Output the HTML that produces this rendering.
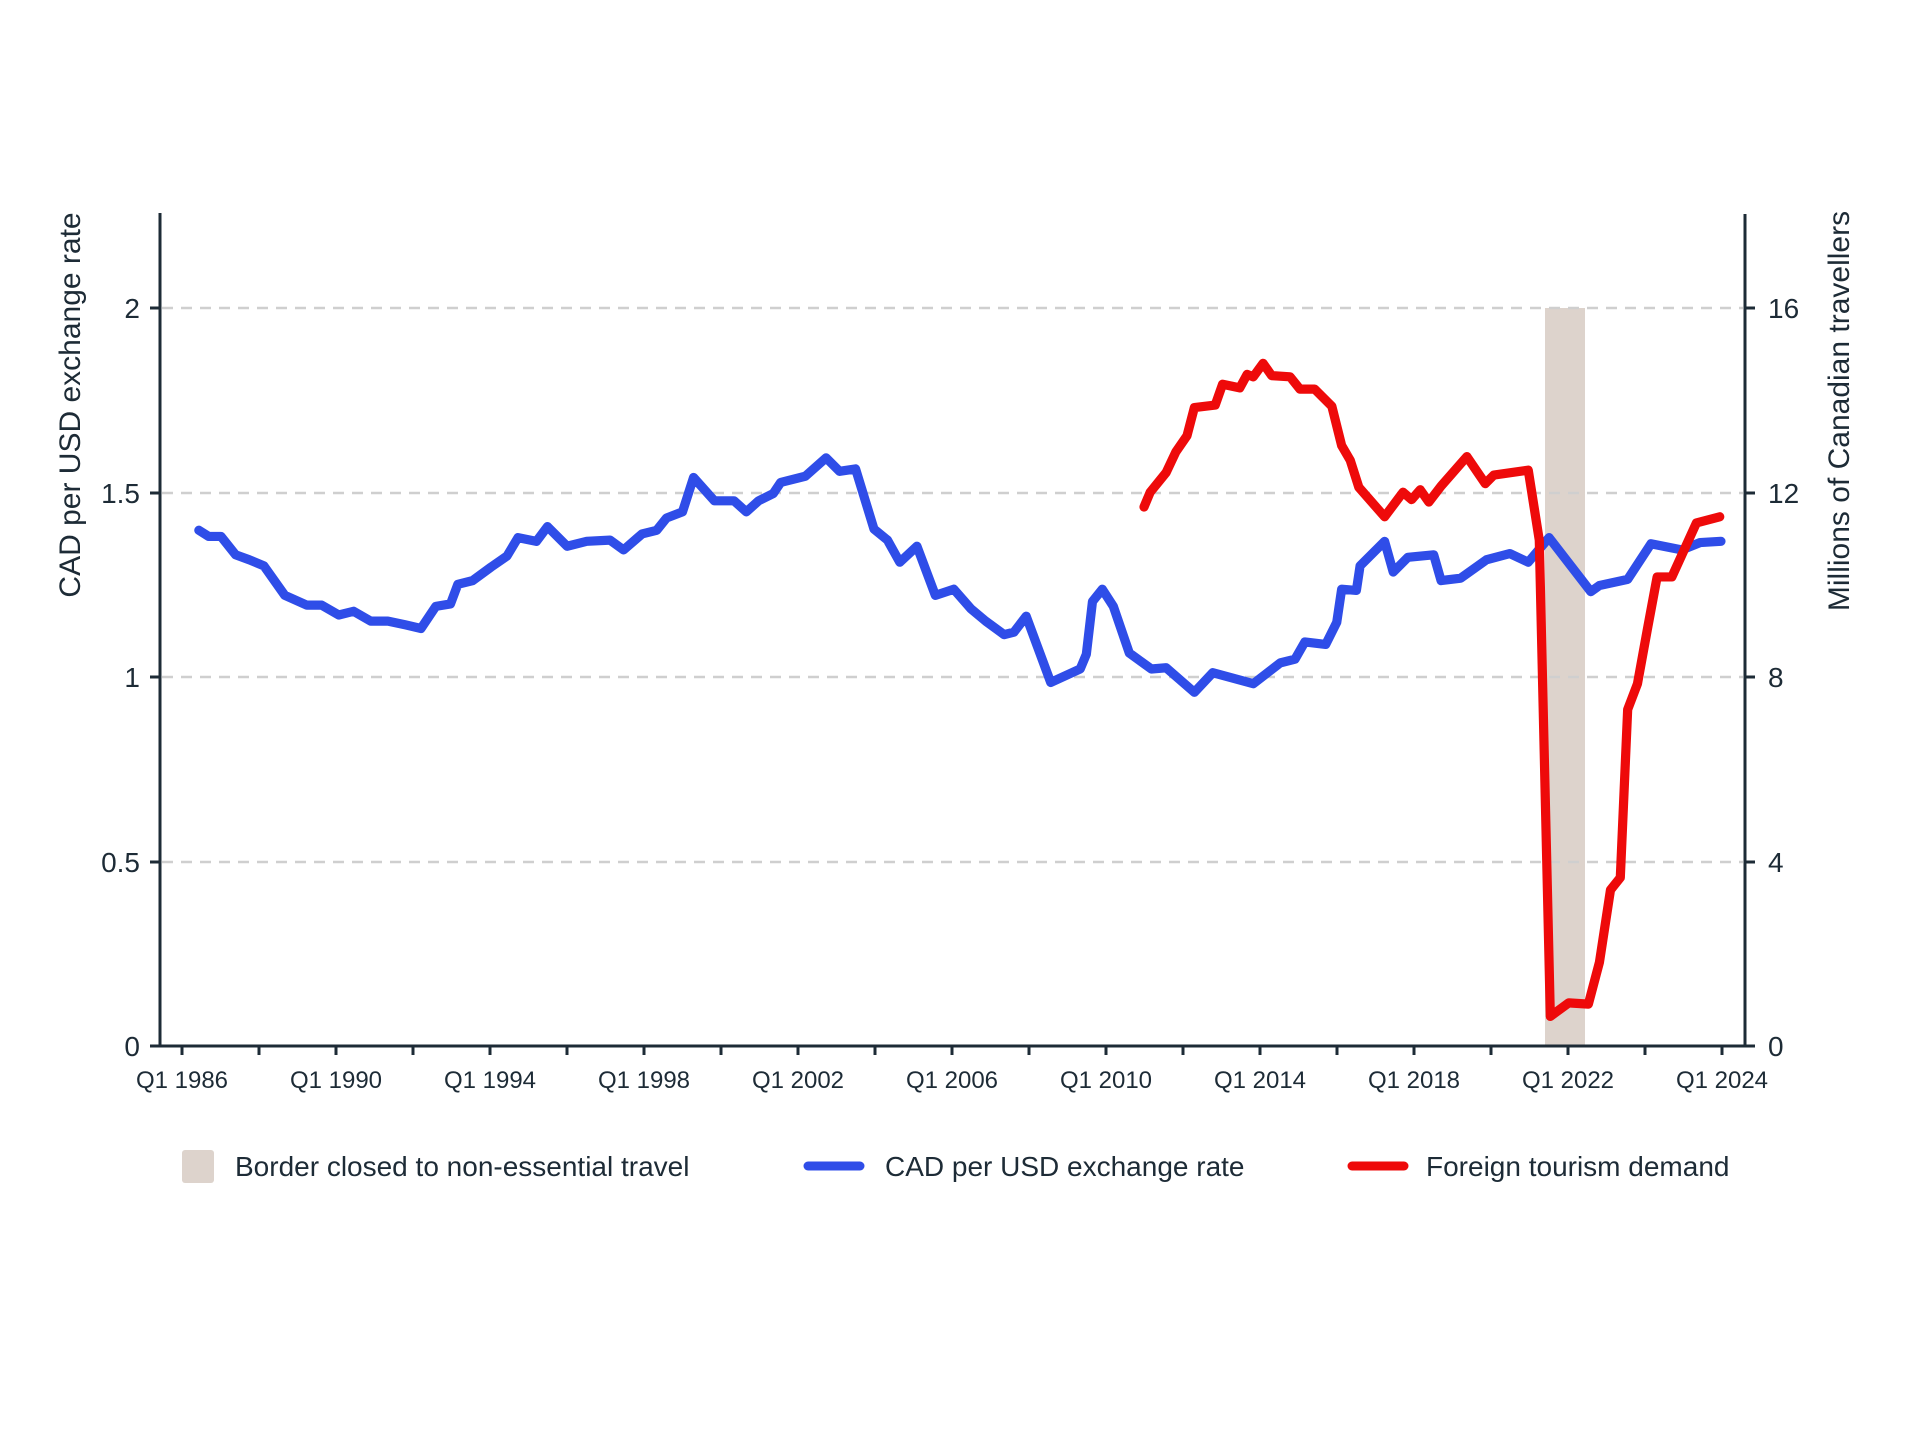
<!DOCTYPE html>
<html><head><meta charset="utf-8"><style>
html,body{margin:0;padding:0;background:#fff;}
svg{display:block;}
text{font-family:"Liberation Sans",Arial,sans-serif;fill:#1d2b36;}
</style></head><body>
<svg width="1920" height="1440" viewBox="0 0 1920 1440" xmlns="http://www.w3.org/2000/svg">
<rect width="1920" height="1440" fill="#fff"/>
<rect x="1545" y="308" width="40" height="738" fill="#ddd3cc"/>
<g stroke="#cfcfcf" stroke-width="2.5" stroke-dasharray="11,8">
<line x1="162" y1="308" x2="1743" y2="308"/>
<line x1="162" y1="493" x2="1743" y2="493"/>
<line x1="162" y1="677" x2="1743" y2="677"/>
<line x1="162" y1="862" x2="1743" y2="862"/>
</g>
<g stroke="#1d2b36" stroke-width="3" fill="none">
<line x1="160" y1="213" x2="160" y2="1047"/>
<line x1="1745" y1="214" x2="1745" y2="1047"/>
<line x1="150" y1="1046" x2="1755" y2="1046"/>
<line x1="150" y1="308" x2="160" y2="308"/><line x1="150" y1="493" x2="160" y2="493"/><line x1="150" y1="677" x2="160" y2="677"/><line x1="150" y1="862" x2="160" y2="862"/>
<line x1="1745" y1="308" x2="1755" y2="308"/><line x1="1745" y1="493" x2="1755" y2="493"/><line x1="1745" y1="677" x2="1755" y2="677"/><line x1="1745" y1="862" x2="1755" y2="862"/>
<line x1="182" y1="1046" x2="182" y2="1055"/><line x1="259" y1="1046" x2="259" y2="1055"/><line x1="336" y1="1046" x2="336" y2="1055"/><line x1="413" y1="1046" x2="413" y2="1055"/><line x1="490" y1="1046" x2="490" y2="1055"/><line x1="567" y1="1046" x2="567" y2="1055"/><line x1="644" y1="1046" x2="644" y2="1055"/><line x1="721" y1="1046" x2="721" y2="1055"/><line x1="798" y1="1046" x2="798" y2="1055"/><line x1="875" y1="1046" x2="875" y2="1055"/><line x1="952" y1="1046" x2="952" y2="1055"/><line x1="1029" y1="1046" x2="1029" y2="1055"/><line x1="1106" y1="1046" x2="1106" y2="1055"/><line x1="1183" y1="1046" x2="1183" y2="1055"/><line x1="1260" y1="1046" x2="1260" y2="1055"/><line x1="1337" y1="1046" x2="1337" y2="1055"/><line x1="1414" y1="1046" x2="1414" y2="1055"/><line x1="1491" y1="1046" x2="1491" y2="1055"/><line x1="1568" y1="1046" x2="1568" y2="1055"/><line x1="1645" y1="1046" x2="1645" y2="1055"/><line x1="1722" y1="1046" x2="1722" y2="1055"/>
</g>
<g font-size="28" text-anchor="end">
<text x="140" y="318">2</text><text x="140" y="503">1.5</text><text x="140" y="687">1</text><text x="140" y="872">0.5</text><text x="140" y="1056">0</text>
</g>
<g font-size="28" text-anchor="start">
<text x="1768" y="318">16</text><text x="1768" y="503">12</text><text x="1768" y="687">8</text><text x="1768" y="872">4</text><text x="1768" y="1056">0</text>
</g>
<g font-size="24" text-anchor="middle">
<text x="182" y="1088">Q1 1986</text><text x="336" y="1088">Q1 1990</text><text x="490" y="1088">Q1 1994</text><text x="644" y="1088">Q1 1998</text><text x="798" y="1088">Q1 2002</text><text x="952" y="1088">Q1 2006</text><text x="1106" y="1088">Q1 2010</text><text x="1260" y="1088">Q1 2014</text><text x="1414" y="1088">Q1 2018</text><text x="1568" y="1088">Q1 2022</text><text x="1722" y="1088">Q1 2024</text>
</g>
<text font-size="30" text-anchor="middle" transform="translate(80,405) rotate(-90)">CAD per USD exchange rate</text>
<text font-size="30" text-anchor="middle" transform="translate(1849,411) rotate(-90)">Millions of Canadian travellers</text>
<g transform="scale(1.2275)" fill="none" stroke-width="7.5" stroke-linejoin="round" stroke-linecap="round">
<polyline stroke="#2f4de8" points="162,432 170,437 180,437 192,452 203,456 215,461 232,485 250,493 262,493 276,501 288,498 302,506 316,506 330,509 343,512 355,494 367,492 373,476 385,473 400,462 413,453 422,438 437,441 446,429 462,445 478,441 497,440 508,448 523,435 535,432 543,422 556,417 565,389 582,408 598,408 608,417 618,408 630,402 636,393 656,388 673,373 684,384 697,382 712,431 723,440 733,458 747,445 762,485 777,480 791,496 803,506 818,517 826,515 836,502 856,556 880,545 885,533 890,490 898,480 907,494 920,532 938,545 950,544 973,564 988,548 1021,557 1043,540 1055,537 1063,523 1080,525 1089,507 1093,480 1105,481 1108,461 1128,441 1135,466 1147,454 1168,452 1174,473 1190,471 1211,456 1230,451 1245,458 1262,438 1296,482 1303,477 1326,472 1345,443 1370,448 1385,442 1402,441"/>
<polyline stroke="#ee0a0a" points="932,413 937,401 950,385 958,368 967,355 973,332 990,330 996,313 1010,316 1016,305 1021,307 1029,296 1036,306 1051,307 1059,317 1071,317 1085,331 1093,363 1100,375 1107,397 1128,421 1143,401 1150,407 1157,399 1164,409 1174,396 1195,372 1210,394 1217,387 1245,383 1254,440 1263,828 1278,817 1294,818 1303,784 1312,725 1320,715 1326,578 1334,557 1342,513 1350,470 1362,470 1382,426 1401,421"/>
</g>
<rect x="182" y="1150" width="32" height="33" rx="3" fill="#ddd3cc"/>
<text x="235" y="1176" font-size="28">Border closed to non-essential travel</text>
<line x1="808" y1="1166" x2="860" y2="1166" stroke="#2f4de8" stroke-width="9" stroke-linecap="round"/>
<text x="885" y="1176" font-size="28">CAD per USD exchange rate</text>
<line x1="1352" y1="1166" x2="1404" y2="1166" stroke="#ee0a0a" stroke-width="9" stroke-linecap="round"/>
<text x="1426" y="1176" font-size="28">Foreign tourism demand</text>
</svg>
</body></html>
